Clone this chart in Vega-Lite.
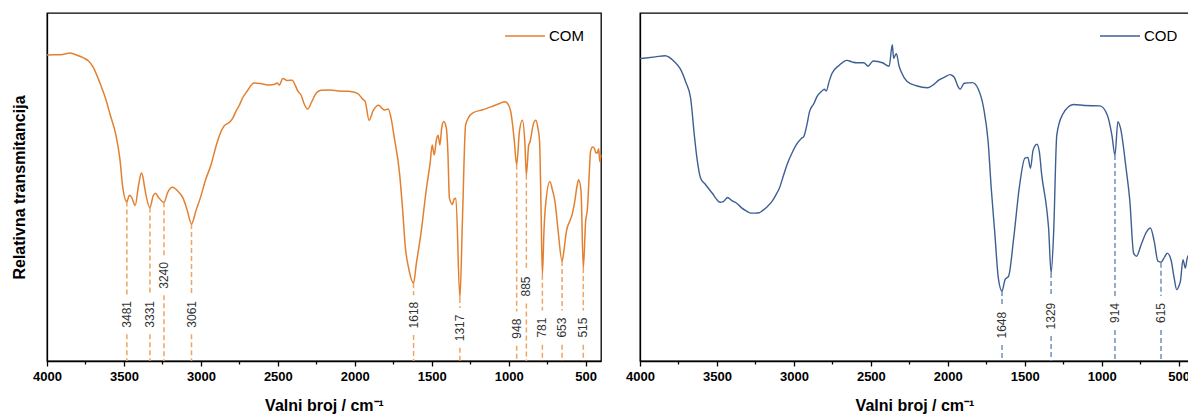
{
  "$schema": "https://vega.github.io/schema/vega-lite/v6.json",
  "padding": {"left": 10, "top": 12, "right": 0, "bottom": 0},
  "bounds": "flush",
  "spacing": 39,
  "resolve": {"scale": {"x": "independent", "y": "independent", "color": "independent"}, "legend": {"color": "independent"}},
  "config": {
    "font": "Liberation Sans",
    "view": {"stroke": "black", "strokeWidth": 1.3},
    "axisX": {"domainColor": "black", "domainWidth": 1.3, "tickColor": "black", "tickWidth": 1.3, "labelFont": "Liberation Sans", "labelFontWeight": "bold", "labelFontSize": 13, "labelColor": "black", "labelPadding": 4, "labelFlush": false, "labelOverlap": false, "titleFont": "Liberation Sans", "titleFontWeight": "bold", "titleFontSize": 16, "titleColor": "black", "titlePadding": 14, "grid": false},
    "axisY": {"domainColor": "black", "domainWidth": 1.3, "ticks": false, "labels": false, "grid": false, "titleFont": "Liberation Sans", "titleFontWeight": "bold", "titleFontSize": 16, "titleColor": "black", "titlePadding": 20},
    "legend": {"title": null, "orient": "none", "symbolType": "stroke", "symbolSize": 1600, "symbolStrokeWidth": 1.5, "labelFont": "Liberation Sans", "labelFontSize": 15, "labelColor": "black", "labelOffset": 3, "padding": 0}
  },
  "datasets": {
    "com": [
      {"wn": 4000, "t": 87.9}, {"wn": 3950, "t": 88.0}, {"wn": 3900, "t": 88.1}, {"wn": 3851, "t": 88.5}, {"wn": 3800, "t": 87.8},
      {"wn": 3763, "t": 87.1}, {"wn": 3730, "t": 86.2}, {"wn": 3701, "t": 84.5}, {"wn": 3675, "t": 82.0}, {"wn": 3651, "t": 79.3},
      {"wn": 3620, "t": 75.5}, {"wn": 3589, "t": 70.7}, {"wn": 3552, "t": 64.9}, {"wn": 3527, "t": 58.3}, {"wn": 3507, "t": 49.7},
      {"wn": 3481, "t": 45.8}, {"wn": 3465, "t": 47.6}, {"wn": 3450, "t": 47.0}, {"wn": 3427, "t": 44.7}, {"wn": 3405, "t": 50.5},
      {"wn": 3387, "t": 54.0}, {"wn": 3375, "t": 52.5}, {"wn": 3365, "t": 49.7}, {"wn": 3331, "t": 44.1}, {"wn": 3310, "t": 47.5},
      {"wn": 3295, "t": 48.2}, {"wn": 3275, "t": 47.0}, {"wn": 3240, "t": 45.6}, {"wn": 3215, "t": 48.5}, {"wn": 3185, "t": 49.9},
      {"wn": 3150, "t": 48.8}, {"wn": 3116, "t": 46.8}, {"wn": 3090, "t": 43.5}, {"wn": 3061, "t": 39.4}, {"wn": 3030, "t": 43.5},
      {"wn": 3004, "t": 46.8}, {"wn": 2970, "t": 52.0}, {"wn": 2934, "t": 56.4}, {"wn": 2900, "t": 62.0}, {"wn": 2879, "t": 64.9},
      {"wn": 2850, "t": 67.5}, {"wn": 2809, "t": 68.8}, {"wn": 2790, "t": 70.0}, {"wn": 2774, "t": 71.6}, {"wn": 2750, "t": 73.5},
      {"wn": 2730, "t": 75.5}, {"wn": 2700, "t": 77.5}, {"wn": 2655, "t": 79.9}, {"wn": 2600, "t": 79.6}, {"wn": 2555, "t": 79.3},
      {"wn": 2520, "t": 79.5}, {"wn": 2505, "t": 79.9}, {"wn": 2490, "t": 79.3}, {"wn": 2468, "t": 81.2}, {"wn": 2440, "t": 80.6},
      {"wn": 2406, "t": 80.7}, {"wn": 2390, "t": 79.5}, {"wn": 2368, "t": 77.4}, {"wn": 2350, "t": 76.5}, {"wn": 2330, "t": 74.0},
      {"wn": 2306, "t": 72.4}, {"wn": 2280, "t": 74.5}, {"wn": 2250, "t": 77.0}, {"wn": 2219, "t": 77.8}, {"wn": 2160, "t": 77.9},
      {"wn": 2107, "t": 77.6}, {"wn": 2040, "t": 77.5}, {"wn": 1982, "t": 76.9}, {"wn": 1950, "t": 75.3}, {"wn": 1932, "t": 74.5},
      {"wn": 1907, "t": 69.2}, {"wn": 1880, "t": 72.0}, {"wn": 1845, "t": 73.5}, {"wn": 1820, "t": 72.5}, {"wn": 1808, "t": 72.1},
      {"wn": 1783, "t": 72.4}, {"wn": 1765, "t": 70.0}, {"wn": 1746, "t": 64.9}, {"wn": 1708, "t": 53.5}, {"wn": 1690, "t": 44.0},
      {"wn": 1671, "t": 32.5}, {"wn": 1650, "t": 26.7}, {"wn": 1618, "t": 22.4}, {"wn": 1600, "t": 28.0}, {"wn": 1571, "t": 36.3},
      {"wn": 1534, "t": 49.7}, {"wn": 1510, "t": 57.0}, {"wn": 1497, "t": 62.1}, {"wn": 1484, "t": 59.2}, {"wn": 1470, "t": 63.5},
      {"wn": 1459, "t": 64.9}, {"wn": 1447, "t": 62.1}, {"wn": 1435, "t": 67.0}, {"wn": 1422, "t": 68.8}, {"wn": 1405, "t": 66.9},
      {"wn": 1395, "t": 60.0}, {"wn": 1385, "t": 46.8}, {"wn": 1365, "t": 45.0}, {"wn": 1355, "t": 46.5}, {"wn": 1343, "t": 46.8},
      {"wn": 1317, "t": 18.1}, {"wn": 1300, "t": 41.1}, {"wn": 1280, "t": 67.8}, {"wn": 1260, "t": 70.0}, {"wn": 1235, "t": 71.2},
      {"wn": 1170, "t": 72.2}, {"wn": 1110, "t": 73.1}, {"wn": 1060, "t": 74.0}, {"wn": 1023, "t": 74.5}, {"wn": 1000, "t": 73.5},
      {"wn": 986, "t": 71.6}, {"wn": 965, "t": 64.0}, {"wn": 948, "t": 56.4}, {"wn": 930, "t": 66.0}, {"wn": 911, "t": 69.2},
      {"wn": 895, "t": 63.0}, {"wn": 885, "t": 53.5}, {"wn": 870, "t": 62.0}, {"wn": 861, "t": 63.0}, {"wn": 840, "t": 68.0},
      {"wn": 824, "t": 69.2}, {"wn": 810, "t": 67.0}, {"wn": 799, "t": 63.0}, {"wn": 790, "t": 45.0}, {"wn": 781, "t": 24.8},
      {"wn": 770, "t": 38.0}, {"wn": 762, "t": 43.9}, {"wn": 732, "t": 51.6}, {"wn": 715, "t": 49.0}, {"wn": 699, "t": 45.8},
      {"wn": 680, "t": 38.0}, {"wn": 653, "t": 28.7}, {"wn": 640, "t": 32.0}, {"wn": 625, "t": 37.2}, {"wn": 600, "t": 40.5},
      {"wn": 588, "t": 42.0}, {"wn": 570, "t": 46.0}, {"wn": 555, "t": 50.5}, {"wn": 545, "t": 52.1}, {"wn": 530, "t": 49.0},
      {"wn": 515, "t": 26.7}, {"wn": 500, "t": 40.0}, {"wn": 488, "t": 43.9}, {"wn": 475, "t": 55.0}, {"wn": 468, "t": 60.2},
      {"wn": 455, "t": 61.5}, {"wn": 443, "t": 61.1}, {"wn": 435, "t": 60.0}, {"wn": 425, "t": 59.7}, {"wn": 415, "t": 61.0},
      {"wn": 408, "t": 57.3}, {"wn": 400, "t": 59.2}
    ],
    "comPeaks": [
      {"wn": 3481, "label": "3481", "top": 45.8, "hi": 19.1, "lab": 13.4, "lo": 7.7},
      {"wn": 3331, "label": "3331", "top": 44.1, "hi": 19.1, "lab": 13.4, "lo": 7.7},
      {"wn": 3240, "label": "3240", "top": 45.6, "hi": 30.3, "lab": 24.6, "lo": 18.9},
      {"wn": 3061, "label": "3061", "top": 39.4, "hi": 19.1, "lab": 13.4, "lo": 7.7},
      {"wn": 1618, "label": "1618", "top": 22.4, "hi": 18.9, "lab": 13.2, "lo": 7.5},
      {"wn": 1317, "label": "1317", "top": 18.1, "hi": 15.2, "lab": 9.5, "lo": 3.8},
      {"wn": 948, "label": "948", "top": 56.4, "hi": 14.2, "lab": 9.3, "lo": 4.4},
      {"wn": 885, "label": "885", "top": 53.5, "hi": 26.3, "lab": 21.4, "lo": 16.5},
      {"wn": 781, "label": "781", "top": 24.8, "hi": 14.5, "lab": 9.6, "lo": 4.7},
      {"wn": 653, "label": "653", "top": 28.7, "hi": 14.5, "lab": 9.6, "lo": 4.7},
      {"wn": 515, "label": "515", "top": 26.7, "hi": 14.5, "lab": 9.6, "lo": 4.7}
    ],
    "cod": [
      {"wn": 4000, "t": 86.9}, {"wn": 3900, "t": 87.4}, {"wn": 3837, "t": 87.7}, {"wn": 3776, "t": 86.0}, {"wn": 3739, "t": 84.0},
      {"wn": 3703, "t": 80.2}, {"wn": 3671, "t": 75.5}, {"wn": 3647, "t": 64.9}, {"wn": 3630, "t": 58.3}, {"wn": 3606, "t": 52.5},
      {"wn": 3580, "t": 51.0}, {"wn": 3557, "t": 49.7}, {"wn": 3530, "t": 48.2}, {"wn": 3508, "t": 46.8}, {"wn": 3480, "t": 45.6},
      {"wn": 3459, "t": 45.8}, {"wn": 3430, "t": 47.0}, {"wn": 3423, "t": 46.8}, {"wn": 3400, "t": 46.0}, {"wn": 3374, "t": 45.4},
      {"wn": 3340, "t": 44.0}, {"wn": 3313, "t": 43.2}, {"wn": 3280, "t": 42.5}, {"wn": 3252, "t": 42.5}, {"wn": 3225, "t": 42.6},
      {"wn": 3204, "t": 43.2}, {"wn": 3170, "t": 44.5}, {"wn": 3143, "t": 45.8}, {"wn": 3110, "t": 48.3}, {"wn": 3094, "t": 49.7},
      {"wn": 3070, "t": 53.0}, {"wn": 3045, "t": 56.4}, {"wn": 3010, "t": 60.0}, {"wn": 2985, "t": 62.1}, {"wn": 2950, "t": 64.0},
      {"wn": 2936, "t": 64.5}, {"wn": 2915, "t": 68.0}, {"wn": 2899, "t": 71.6}, {"wn": 2870, "t": 74.0}, {"wn": 2851, "t": 75.9},
      {"wn": 2820, "t": 77.5}, {"wn": 2802, "t": 78.1}, {"wn": 2790, "t": 77.6}, {"wn": 2770, "t": 80.5}, {"wn": 2753, "t": 82.6},
      {"wn": 2705, "t": 85.0}, {"wn": 2656, "t": 86.4}, {"wn": 2620, "t": 85.9}, {"wn": 2595, "t": 85.7}, {"wn": 2546, "t": 85.7},
      {"wn": 2517, "t": 84.7}, {"wn": 2500, "t": 85.6}, {"wn": 2485, "t": 86.2}, {"wn": 2425, "t": 85.7}, {"wn": 2381, "t": 84.7},
      {"wn": 2361, "t": 90.9}, {"wn": 2352, "t": 87.0}, {"wn": 2347, "t": 87.4}, {"wn": 2334, "t": 88.3}, {"wn": 2318, "t": 85.0},
      {"wn": 2303, "t": 83.1}, {"wn": 2266, "t": 80.4}, {"wn": 2205, "t": 79.1}, {"wn": 2132, "t": 78.5}, {"wn": 2090, "t": 79.5},
      {"wn": 2059, "t": 80.7}, {"wn": 2020, "t": 81.6}, {"wn": 1986, "t": 82.3}, {"wn": 1970, "t": 82.0}, {"wn": 1957, "t": 81.4},
      {"wn": 1935, "t": 79.0}, {"wn": 1920, "t": 78.1}, {"wn": 1894, "t": 79.8}, {"wn": 1840, "t": 80.0}, {"wn": 1804, "t": 78.3},
      {"wn": 1767, "t": 72.6}, {"wn": 1738, "t": 63.0}, {"wn": 1718, "t": 49.7}, {"wn": 1694, "t": 36.3}, {"wn": 1672, "t": 23.9},
      {"wn": 1648, "t": 20.1}, {"wn": 1628, "t": 23.4}, {"wn": 1605, "t": 24.4}, {"wn": 1572, "t": 35.3}, {"wn": 1536, "t": 49.7},
      {"wn": 1499, "t": 58.3}, {"wn": 1480, "t": 58.5}, {"wn": 1463, "t": 55.4}, {"wn": 1446, "t": 60.6}, {"wn": 1421, "t": 62.3},
      {"wn": 1405, "t": 60.0}, {"wn": 1390, "t": 53.5}, {"wn": 1358, "t": 43.9}, {"wn": 1345, "t": 38.0}, {"wn": 1329, "t": 25.3},
      {"wn": 1313, "t": 36.3}, {"wn": 1292, "t": 64.9}, {"wn": 1256, "t": 70.7}, {"wn": 1183, "t": 73.7}, {"wn": 1110, "t": 73.4},
      {"wn": 1012, "t": 73.3}, {"wn": 964, "t": 70.7}, {"wn": 934, "t": 64.9}, {"wn": 914, "t": 59.2}, {"wn": 895, "t": 68.8},
      {"wn": 878, "t": 66.9}, {"wn": 842, "t": 55.4}, {"wn": 817, "t": 45.8}, {"wn": 793, "t": 31.0}, {"wn": 774, "t": 30.1},
      {"wn": 744, "t": 33.4}, {"wn": 708, "t": 37.2}, {"wn": 684, "t": 38.2}, {"wn": 659, "t": 34.4}, {"wn": 635, "t": 28.7},
      {"wn": 615, "t": 28.4}, {"wn": 590, "t": 30.0}, {"wn": 574, "t": 31.0}, {"wn": 550, "t": 29.1}, {"wn": 530, "t": 24.0},
      {"wn": 513, "t": 20.5}, {"wn": 495, "t": 22.0}, {"wn": 489, "t": 22.9}, {"wn": 472, "t": 29.1}, {"wn": 457, "t": 26.7},
      {"wn": 445, "t": 29.5}, {"wn": 433, "t": 30.6}
    ],
    "codPeaks": [
      {"wn": 1648, "label": "1648", "top": 20.1, "hi": 16.0, "lab": 10.3, "lo": 4.6},
      {"wn": 1329, "label": "1329", "top": 25.3, "hi": 18.6, "lab": 12.9, "lo": 7.2},
      {"wn": 914, "label": "914", "top": 59.2, "hi": 18.7, "lab": 13.8, "lo": 8.9},
      {"wn": 615, "label": "615", "top": 28.2, "hi": 18.7, "lab": 13.8, "lo": 8.9}
    ]
  },
  "hconcat": [
    {
      "width": 554,
      "height": 348,
      "encoding": {
        "x": {
          "field": "wn", "type": "quantitative",
          "scale": {"domain": [400, 4000], "reverse": true, "nice": false, "zero": false},
          "axis": {
            "values": [4000, 3750, 3500, 3250, 3000, 2750, 2500, 2250, 2000, 1750, 1500, 1250, 1000, 750, 500],
            "format": "d",
            "labelExpr": "datum.value % 500 === 0 ? datum.label : ''",
            "tickSize": {"condition": {"test": "datum.value % 500 === 0", "value": 5}, "value": 3},
            "title": "Valni broj / cm⁻¹"
          }
        }
      },
      "layer": [
        {
          "data": {"name": "comPeaks"},
          "mark": {"type": "rule", "color": "#F0A462", "strokeWidth": 1.5, "strokeDash": [5, 3]},
          "encoding": {
            "y": {"field": "top", "type": "quantitative", "scale": {"domain": [0, 100], "nice": false}, "title": "Relativna transmitancija"},
            "y2": {"field": "hi"}
          }
        },
        {
          "data": {"name": "comPeaks"},
          "mark": {"type": "rule", "color": "#F0A462", "strokeWidth": 1.5, "strokeDash": [5, 3]},
          "encoding": {
            "y": {"field": "lo", "type": "quantitative", "scale": {"domain": [0, 100], "nice": false}, "title": "Relativna transmitancija"},
            "y2": {"datum": 0}
          }
        },
        {
          "data": {"name": "comPeaks"},
          "mark": {"type": "text", "angle": 270, "font": "Liberation Sans", "fontSize": 12, "color": "#333333", "align": "center", "baseline": "middle"},
          "encoding": {
            "y": {"field": "lab", "type": "quantitative", "scale": {"domain": [0, 100], "nice": false}, "title": "Relativna transmitancija"},
            "text": {"field": "label", "type": "nominal"}
          }
        },
        {
          "data": {"name": "com"},
          "mark": {"type": "line", "strokeWidth": 1.5, "interpolate": "monotone"},
          "encoding": {
            "y": {"field": "t", "type": "quantitative", "scale": {"domain": [0, 100], "nice": false}, "title": "Relativna transmitancija"},
            "color": {"datum": "COM", "scale": {"range": ["#E3802F"]}, "legend": {"legendX": 457, "legendY": 2}}
          }
        }
      ]
    },
    {
      "width": 549,
      "height": 348,
      "encoding": {
        "x": {
          "field": "wn", "type": "quantitative",
          "scale": {"domain": [433, 4000], "reverse": true, "nice": false, "zero": false},
          "axis": {
            "values": [4000, 3750, 3500, 3250, 3000, 2750, 2500, 2250, 2000, 1750, 1500, 1250, 1000, 750, 500],
            "format": "d",
            "labelExpr": "datum.value % 500 === 0 ? datum.label : ''",
            "tickSize": {"condition": {"test": "datum.value % 500 === 0", "value": 5}, "value": 3},
            "title": "Valni broj / cm⁻¹"
          }
        }
      },
      "layer": [
        {
          "data": {"name": "codPeaks"},
          "mark": {"type": "rule", "color": "#7090BC", "strokeWidth": 1.5, "strokeDash": [5, 3]},
          "encoding": {
            "y": {"field": "top", "type": "quantitative", "scale": {"domain": [0, 100], "nice": false}, "title": null},
            "y2": {"field": "hi"}
          }
        },
        {
          "data": {"name": "codPeaks"},
          "mark": {"type": "rule", "color": "#7090BC", "strokeWidth": 1.5, "strokeDash": [5, 3]},
          "encoding": {
            "y": {"field": "lo", "type": "quantitative", "scale": {"domain": [0, 100], "nice": false}, "title": null},
            "y2": {"datum": 0}
          }
        },
        {
          "data": {"name": "codPeaks"},
          "mark": {"type": "text", "angle": 270, "font": "Liberation Sans", "fontSize": 12, "color": "#333333", "align": "center", "baseline": "middle"},
          "encoding": {
            "y": {"field": "lab", "type": "quantitative", "scale": {"domain": [0, 100], "nice": false}, "title": null},
            "text": {"field": "label", "type": "nominal"}
          }
        },
        {
          "data": {"name": "cod"},
          "mark": {"type": "line", "strokeWidth": 1.4, "interpolate": "monotone"},
          "encoding": {
            "y": {"field": "t", "type": "quantitative", "scale": {"domain": [0, 100], "nice": false}, "title": null},
            "color": {"datum": "COD", "scale": {"range": ["#3D5F93"]}, "legend": {"legendX": 459, "legendY": 2}}
          }
        }
      ]
    }
  ]
}
